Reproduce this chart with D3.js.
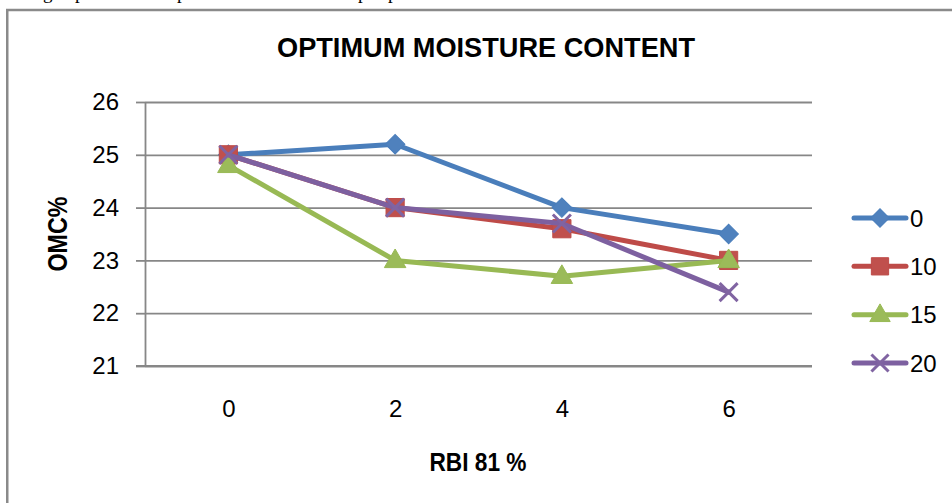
<!DOCTYPE html>
<html>
<head>
<meta charset="utf-8">
<script src="https://cdn.jsdelivr.net/npm/d3@7/dist/d3.min.js"></script>
<style>
  html, body { margin: 0; padding: 0; background: #fff; overflow: hidden; }
  svg { display: block; }
</style>
</head>
<body>
<svg id="chart" width="952" height="503"></svg>
<script>
// ---- data ----
const categories = ["0", "2", "4", "6"];
const seriesNames = ["0", "10", "15", "20"];
const values0  = [25.0, 25.2, 24.0, 23.5];
const values10 = [25.0, 24.0, 23.6, 23.0];
const values15 = [24.8, 23.0, 22.7, 23.0];
const values20 = [25.0, 24.0, 23.7, 22.4];
const yTicks = [21, 22, 23, 24, 25, 26];
const titleText = "OPTIMUM MOISTURE CONTENT";
const xTitleText = "RBI 81 %";
const yTitleText = "OMC%";

const seriesValues = [values0, values10, values15, values20];
const lineColors   = ["#4A7EBB", "#BE4B48", "#98B954", "#7D60A0"];
const markerColors = ["#4F81BD", "#C0504D", "#9BBB59", "#8064A2"];
const markerTypes  = ["diamond", "square", "triangle", "x"];

const svg = d3.select("#chart");
const plot = { left: 145, right: 812, top: 102, bottom: 366 };

// outer frame of the chart area
svg.append("rect")
  .attr("x", 7.25).attr("y", 10)
  .attr("width", 1000).attr("height", 600)
  .attr("fill", "none").attr("stroke", "#8a8a8a").attr("stroke-width", 2.5);

// descenders of the document line above the chart (clipped in the reference too)
const topFrag = svg.append("text")
  .attr("font-family", "Liberation Serif, Times New Roman, serif")
  .attr("font-size", 19).attr("fill", "#000").attr("y", -1);
[["g", 43], ["p", 75], ["p", 177], ["p", 358], ["p", 388]].forEach(([c, xx]) => {
  topFrag.append("tspan").attr("x", xx).text(c);
});

// scales
const x = d3.scalePoint().domain(categories).range([plot.left, plot.right]).padding(0.5);
const y = d3.scaleLinear().domain([21, 26]).range([plot.bottom, plot.top]);

// gridlines
const grid = svg.append("g").attr("transform", `translate(${plot.left},0)`)
  .call(d3.axisLeft(y).tickValues(yTicks).tickSizeInner(-(plot.right - plot.left)).tickSizeOuter(0).tickFormat(""));
grid.select(".domain").remove();
grid.selectAll(".tick line").attr("stroke", "#878787").attr("stroke-width", 1.8);

// y axis
const yAxis = svg.append("g").attr("transform", `translate(${plot.left},0)`)
  .call(d3.axisLeft(y).tickValues(yTicks).tickFormat(d3.format("d"))
    .tickSizeInner(9).tickSizeOuter(0).tickPadding(17));
yAxis.select(".domain").attr("stroke", "#878787").attr("stroke-width", 1.8);
yAxis.selectAll(".tick line").attr("stroke", "#878787").attr("stroke-width", 1.8);
yAxis.selectAll(".tick text")
  .attr("font-family", "Liberation Sans, Arial, sans-serif")
  .attr("font-size", 24).attr("fill", "#000");

// x axis (labels only)
const xAxis = svg.append("g").attr("transform", `translate(0,${plot.bottom})`)
  .call(d3.axisBottom(x).tickSize(0).tickPadding(34));
xAxis.select(".domain").attr("stroke", "#878787").attr("stroke-width", 1.8)
  .attr("d", `M${plot.left - 9},0H${plot.right}`);
xAxis.selectAll(".tick text")
  .attr("font-family", "Liberation Sans, Arial, sans-serif")
  .attr("font-size", 24).attr("fill", "#000");

// titles
const boldFont = "Liberation Sans Narrow, Liberation Sans, Arial, sans-serif";
svg.append("text")
  .attr("x", 486).attr("y", 57)
  .attr("text-anchor", "middle")
  .attr("font-family", boldFont).attr("font-weight", "bold").attr("font-size", 27)
  .attr("textLength", 418).attr("lengthAdjust", "spacingAndGlyphs")
  .text(titleText);

svg.append("text")
  .attr("x", 478).attr("y", 471)
  .attr("text-anchor", "middle")
  .attr("font-family", boldFont).attr("font-weight", "bold").attr("font-size", 26)
  .attr("textLength", 97).attr("lengthAdjust", "spacingAndGlyphs")
  .text(xTitleText);

svg.append("text")
  .attr("transform", "translate(57,234) rotate(-90)")
  .attr("text-anchor", "middle").attr("dy", "0.36em")
  .attr("font-family", boldFont).attr("font-weight", "bold").attr("font-size", 27)
  .attr("textLength", 75).attr("lengthAdjust", "spacingAndGlyphs")
  .text(yTitleText);

// marker drawing
function drawMarker(g, type, cx, cy, i, scale) {
  const s = scale || 1;
  if (type === "diamond") {
    g.append("path").attr("transform", `translate(${cx},${cy}) rotate(45)`)
      .attr("d", d3.symbol().type(d3.symbolSquare).size(190 * s * s)())
      .attr("fill", markerColors[i]).attr("stroke", lineColors[i]).attr("stroke-width", 1);
  } else if (type === "square") {
    g.append("path").attr("transform", `translate(${cx},${cy})`)
      .attr("d", d3.symbol().type(d3.symbolSquare).size(330 * s * s)())
      .attr("fill", markerColors[i]).attr("stroke", lineColors[i]).attr("stroke-width", 1);
  } else if (type === "triangle") {
    g.append("path").attr("transform", `translate(${cx},${cy + 1})`)
      .attr("d", d3.symbol().type(d3.symbolTriangle).size(200 * s * s)())
      .attr("fill", markerColors[i]).attr("stroke", lineColors[i]).attr("stroke-width", 1);
  } else {
    const r = 9 * s;
    g.append("path").attr("transform", `translate(${cx},${cy})`)
      .attr("d", `M${-r},${-r}L${r},${r}M${-r},${r}L${r},${-r}`)
      .attr("fill", "none").attr("stroke", markerColors[i]).attr("stroke-width", 3);
  }
}

// series
const line = d3.line().x((d, j) => x(categories[j])).y(d => y(d));
seriesValues.forEach((vals, i) => {
  const g = svg.append("g");
  g.append("path").datum(vals)
    .attr("d", line)
    .attr("fill", "none").attr("stroke", lineColors[i])
    .attr("stroke-width", 5).attr("stroke-linejoin", "round").attr("stroke-linecap", "round");
  vals.forEach((v, j) => drawMarker(g, markerTypes[i], x(categories[j]), y(v), i));
});

// legend
const legendY = d3.scalePoint().domain(seriesNames).range([218, 363]);
const legend = svg.append("g");
seriesNames.forEach((name, i) => {
  const ly = legendY(name);
  legend.append("line")
    .attr("x1", 854).attr("x2", 906).attr("y1", ly).attr("y2", ly)
    .attr("stroke", lineColors[i]).attr("stroke-width", 5).attr("stroke-linecap", "round");
  drawMarker(legend, markerTypes[i], 880, ly, i, 0.95);
  legend.append("text")
    .attr("x", 910).attr("y", ly).attr("dy", "0.36em")
    .attr("font-family", "Liberation Sans, Arial, sans-serif")
    .attr("font-size", 24).attr("fill", "#000")
    .text(name);
});
</script>
</body>
</html>
